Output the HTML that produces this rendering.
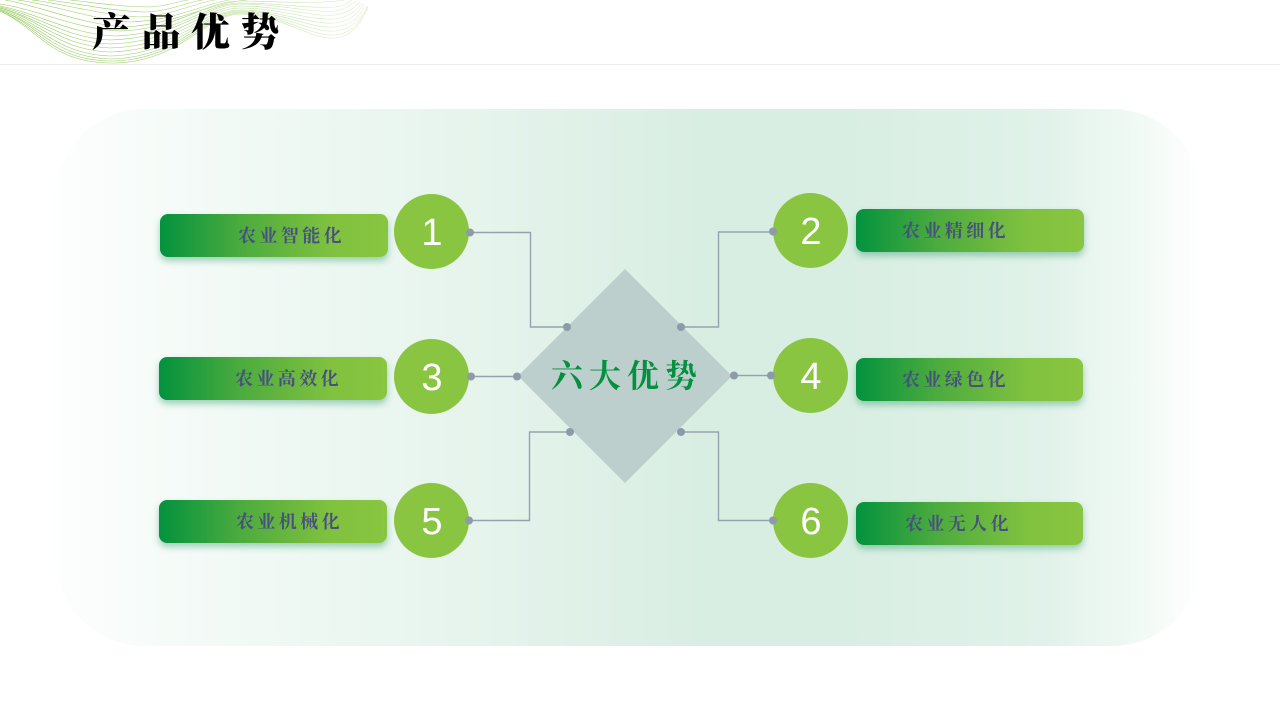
<!DOCTYPE html>
<html lang="zh"><head><meta charset="utf-8">
<style>
html,body{margin:0;padding:0;background:#fff}
#s{position:relative;width:1280px;height:720px;overflow:hidden;background:#fff;font-family:"Liberation Sans","Noto Serif CJK SC",serif}
.bg{position:absolute;left:55px;top:109px;width:1147px;height:537px;border-radius:90px;background:linear-gradient(90deg,#fdfefe 0%,#f5fbf8 10%,#e8f5ee 33%,#d9eee3 56%,#d9eee3 69%,#e0f2e9 86%,#f0f9f4 94%,#fff 100%)}
.b{position:absolute;width:228px;height:43px;border-radius:8px;background:linear-gradient(90deg,#03923e 0%,#4bab3e 35%,#80c13f 75%,#89c540 100%);box-shadow:0 4px 7px rgba(40,150,100,.42);color:#47517f;font:700 18px/42px "Noto Serif CJK SC",serif;letter-spacing:3.400px;white-space:nowrap}
.b span{position:absolute;top:0}
.c{position:absolute;width:75px;height:75px;border-radius:50%;background:#8ac541;color:#fff;font:38px/78px "Liberation Sans",sans-serif;text-align:center;text-indent:1px}
svg{position:absolute;left:0;top:0}
.t{position:absolute;left:92px;top:5px;font:900 39px/50px "Noto Serif CJK SC",serif;letter-spacing:10.500px;color:#000;white-space:nowrap}
.d{position:absolute;left:551px;top:349px;font:700 32px/50px "Noto Serif CJK SC",serif;letter-spacing:6px;color:#05903f;white-space:nowrap}
</style></head><body><div id="s">
<svg width="400" height="70" viewBox="0 0 400 70" fill="none" stroke="url(#w)" stroke-width=".55">
<defs><linearGradient id="w" gradientUnits="userSpaceOnUse" x1="0" y1="0" x2="370" y2="0"><stop offset="0" stop-color="#8cc54e"/><stop offset=".5" stop-color="#a5d27a"/><stop offset="1" stop-color="#e4f1d6"/></linearGradient></defs>
<path d="M0 11C40 30 50 62 110 63C180 64 205 14 240 14C280 14 310 40 335 38C355 36 362 20 368 8"/>
<path d="M0 11C40 28 52 60 110 61C180 61 205 13 240 13C280 13 310 37 335 35C355 33 362 18 368 7"/>
<path d="M0 10C40 26 54 57 110 59C180 58 205 12 240 12C280 12 310 33 335 31C355 29 362 16 368 6"/>
<path d="M0 10C40 24 56 54 110 56C180 54 205 11 240 11C280 11 310 29 335 27C355 25 360 14 366 5"/>
<path d="M0 9C40 22 58 50 110 52C180 50 205 10 240 10C280 10 310 25 335 23C352 21 358 12 364 4"/>
<path d="M0 8C40 20 60 46 110 48C180 46 205 8 240 8C280 8 310 21 335 19C350 17 356 10 362 3"/>
<path d="M0 8C40 18 62 42 110 44C180 42 205 6 240 6C280 6 310 17 335 15C348 13 354 8 360 2"/>
<path d="M0 7C40 16 66 38 110 40C180 38 205 4 240 4C280 4 310 13 335 11C346 9 350 5 356 1"/>
<path d="M0 6C40 14 70 34 115 36C180 34 205 3 240 3C280 3 310 9 335 7C344 6 348 3 352 0"/>
<path d="M0 4C40 10 75 29 120 31C180 29 205 1 240 1C280 1 310 5 345 0"/>
<path d="M5 0C40 6 80 24 125 27C180 24 215 -1 262 -1"/>
<path d="M18 0C50 4 90 19 130 22C185 20 210 -2 250 -2"/>
<path d="M32 0C60 3 100 15 140 17C180 15 200 -2 235 -2"/>
<path d="M48 0C75 3 110 11 145 12C175 11 190 -1 215 -1"/>
<path d="M70 0C90 2 120 7 150 7C170 6 180 0 195 -1"/>
</svg>
<div style="position:absolute;left:0;top:64px;width:1280px;height:1px;background:#eeeeee"></div>
<div class="t">产品优势</div>
<div class="bg"></div>
<div class="c" style="left:394px;top:194px">1</div>
<div class="c" style="left:773px;top:193px">2</div>
<div class="c" style="left:394px;top:339px">3</div>
<div class="c" style="left:773px;top:338px">4</div>
<div class="c" style="left:394px;top:483px">5</div>
<div class="c" style="left:773px;top:483px">6</div>
<svg width="1280" height="720" viewBox="0 0 1280 720">
<polygon points="625,269 732,376 625,483 518,376" fill="#bccfcc"/>
<g fill="none" stroke="#95a3ae" stroke-width="1.400">
<path d="M470 232.500H530.500V327H567"/>
<path d="M772 232H718.500V327H681"/>
<path d="M470 376.500H517"/>
<path d="M733 375.500H771"/>
<path d="M470 520.500H529.500V432H570"/>
<path d="M772 520.500H718.500V432H681"/>
</g>
<g fill="#8d9ba8">
<circle cx="470" cy="232.500" r="4"/><circle cx="567" cy="327" r="4"/>
<circle cx="773" cy="231.500" r="4"/><circle cx="681" cy="327" r="4"/>
<circle cx="471" cy="376.500" r="4"/><circle cx="517" cy="376.500" r="4"/>
<circle cx="734" cy="375.500" r="4"/><circle cx="771" cy="375.500" r="4"/>
<circle cx="469" cy="520.500" r="4"/><circle cx="570" cy="432" r="4"/>
<circle cx="773" cy="520.500" r="4"/><circle cx="681" cy="432" r="4"/>
</g>
</svg>
<div class="d">六大优势</div>
<div class="b" style="left:160px;top:214px"><span style="left:78px">农业智能化</span></div>
<div class="b" style="left:159px;top:357px"><span style="left:76px">农业高效化</span></div>
<div class="b" style="left:159px;top:500px"><span style="left:77px">农业机械化</span></div>
<div class="b" style="left:856px;top:209px"><span style="left:46px">农业精细化</span></div>
<div class="b" style="left:856px;top:358px;width:227px"><span style="left:46px">农业绿色化</span></div>
<div class="b" style="left:856px;top:502px;width:227px"><span style="left:49px">农业无人化</span></div>
</div></body></html>
